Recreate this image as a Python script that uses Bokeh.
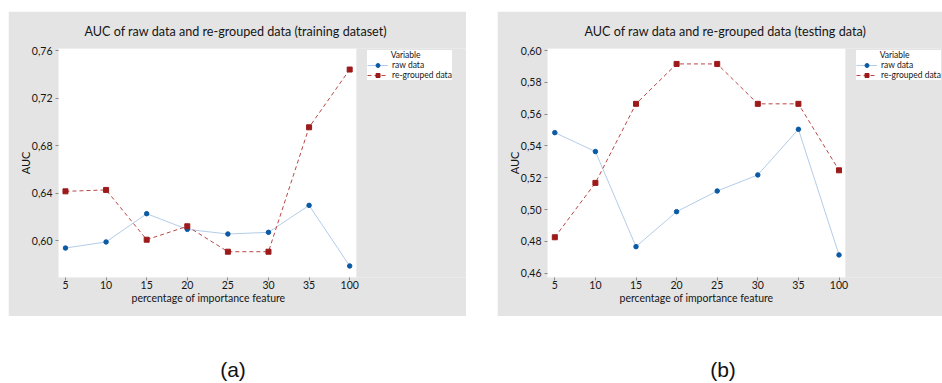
from bokeh.plotting import figure
from bokeh.models import (Range1d, FixedTicker, Legend, LegendItem, Title,
                          ColumnDataSource, BoxAnnotation)
from bokeh.layouts import row, column
from bokeh.embed import file_html
from bokeh.resources import INLINE
from bokeh.core.properties import value

# ---------------- data ----------------
x_labels = ["5", "10", "15", "20", "25", "30", "35", "100"]

train_raw = [0.5938, 0.5989, 0.6227, 0.6095, 0.6056, 0.6070, 0.6297, 0.5787]
train_regrouped = [0.6415, 0.6427, 0.6008, 0.6121, 0.5907, 0.5907, 0.6954, 0.7440]

test_raw = [0.5484, 0.5365, 0.4767, 0.4987, 0.5117, 0.5218, 0.5505, 0.4715]
test_regrouped = [0.4826, 0.5168, 0.5665, 0.5916, 0.5916, 0.5665, 0.5665, 0.5247]

train_yticks = [0.60, 0.64, 0.68, 0.72, 0.76]
train_ytick_labels = ["0,60", "0,64", "0,68", "0,72", "0,76"]
test_yticks = [0.46, 0.48, 0.50, 0.52, 0.54, 0.56, 0.58, 0.60]
test_ytick_labels = ["0,46", "0,48", "0,50", "0,52", "0,54", "0,56", "0,58", "0,60"]

series_names = ["raw data", "re-grouped data"]
legend_title = "Variable"
panel_titles = ["AUC of raw data and re-grouped data (training dataset)",
                "AUC of raw data and re-grouped data (testing data)"]
panel_tags = ["(a)", "(b)"]
x_title = "percentage of importance feature"
y_title = "AUC"

FONT = "Lato"
GRAY = "#e4e4e4"
RAW_LINE = "#b3cce8"
RAW_MARK = "#0b5aa6"
REG_LINE = "#b94747"
REG_MARK = "#9c1a1a"
PX_PER_CAT = 40.6


def make_panel(title, raw, reg, yticks, ylabels, y_start, y_end, x_start, x_vis_end,
               width, title_offset, xlabel_offset, left_margin):
    bl = 50
    frame_w = width - bl
    x_end = x_start + frame_w / PX_PER_CAT
    p = figure(width=width, height=305, output_backend="svg", toolbar_location=None,
               x_range=Range1d(x_start, x_end), y_range=Range1d(y_start, y_end),
               min_border_left=bl, min_border_right=0, min_border_top=37,
               min_border_bottom=39)
    p.margin = (11, 0, 0, left_margin)
    p.background_fill_color = GRAY
    p.border_fill_color = GRAY
    p.outline_line_color = None
    p.grid.visible = False

    # white plotting area (only up to the last category + padding)
    p.add_layout(BoxAnnotation(left=x_start, right=x_vis_end, fill_color="white",
                               fill_alpha=1.0, line_color=None, level="underlay"))

    t = Title(text=title, align="left", offset=title_offset,
              text_font=FONT, text_font_size="12.6px", text_font_style="normal",
              text_color="#161616", standoff=19)
    p.add_layout(t, "above")

    idx = list(range(len(x_labels)))
    src = ColumnDataSource(dict(x=idx, raw=raw, reg=reg))

    l1 = p.line("x", "raw", source=src, line_color=RAW_LINE, line_width=1)
    m1 = p.scatter("x", "raw", source=src, marker="circle", size=4.5,
                   fill_color=RAW_MARK, line_color=RAW_MARK)
    l2 = p.line("x", "reg", source=src, line_color=REG_LINE, line_width=1,
                line_dash="4 3")
    m2 = p.scatter("x", "reg", source=src, marker="square", size=5,
                   fill_color=REG_MARK, line_color=REG_MARK)

    p.xaxis.ticker = FixedTicker(ticks=idx)
    p.xaxis.major_label_overrides = {i: s for i, s in enumerate(x_labels)}
    p.yaxis.ticker = FixedTicker(ticks=yticks)
    p.yaxis.major_label_overrides = {v: s for v, s in zip(yticks, ylabels)}

    for ax in (p.xaxis[0], p.yaxis[0]):
        ax.axis_line_color = None
        ax.major_tick_line_color = "#8a8a8a"
        ax.major_tick_out = 3
        ax.major_tick_in = 0
        ax.minor_tick_line_color = None
        ax.major_label_text_font = FONT
        ax.major_label_text_font_size = "10.5px"
        ax.major_label_text_color = "#161616"
        ax.axis_label_text_font = FONT
        ax.axis_label_text_font_size = "11px"
        ax.axis_label_text_font_style = "normal"
        ax.axis_label_text_color = "#161616"
    p.yaxis.axis_label = y_title
    p.xaxis.major_label_standoff = 0
    p.yaxis.major_label_standoff = 3
    p.yaxis.axis_label_standoff = -3

    # x-axis title, centred under the white plotting area
    xt = Title(text=x_title, align="left", offset=xlabel_offset, text_font=FONT,
               text_font_size="10.5px", text_font_style="normal",
               text_color="#161616", vertical_align="top", standoff=0)
    p.add_layout(xt, "below")

    legend = Legend(items=[LegendItem(label=series_names[0], renderers=[l1, m1]),
                           LegendItem(label=series_names[1], renderers=[l2, m2])],
                    location=(309, 197))
    legend.title = "\u00a0" * 11 + legend_title
    legend.title_text_font = FONT
    legend.title_text_font_size = "8.5px"
    legend.title_text_font_style = "normal"
    legend.title_text_color = "#161616"
    legend.title_standoff = 0
    legend.label_text_font = FONT
    legend.label_text_font_size = "8.5px"
    legend.label_text_color = "#161616"
    legend.label_height = 10
    legend.glyph_height = 10
    legend.glyph_width = 21
    legend.label_standoff = 4
    legend.spacing = 0
    legend.padding = 3
    legend.margin = 0
    legend.border_line_color = None
    legend.background_fill_color = "white"
    legend.background_fill_alpha = 1.0
    p.add_layout(legend, "center")
    return p


# training panel
p1 = make_panel(panel_titles[0], train_raw, train_regrouped,
                train_yticks, train_ytick_labels, 0.569, 0.7617, -0.172, 7.165,
                width=458, title_offset=26, xlabel_offset=73, left_margin=8)
# testing panel
p2 = make_panel(panel_titles[1], test_raw, test_regrouped,
                test_yticks, test_ytick_labels, 0.4573, 0.6013, -0.18, 7.156,
                width=445, title_offset=37, xlabel_offset=72, left_margin=31)

# labels under the panels
lab = figure(width=942, height=67, output_backend="svg", toolbar_location=None,
             x_range=Range1d(0, 942), y_range=Range1d(0, 67), min_border=0)
lab.axis.visible = False
lab.grid.visible = False
lab.outline_line_color = None
lab.background_fill_color = "white"
lab.border_fill_color = "white"
lab_src = ColumnDataSource(dict(x=[232.5, 722.5], y=[14, 14], t=panel_tags))
lab.text("x", "y", text="t", source=lab_src, text_font=value("Liberation Sans"),
         text_font_size="21px", text_align="center", text_baseline="middle",
         text_color="#111111")

layout = column(row(p1, p2, spacing=0), lab, spacing=0)
open("out.html", "w").write(file_html(layout, INLINE))
